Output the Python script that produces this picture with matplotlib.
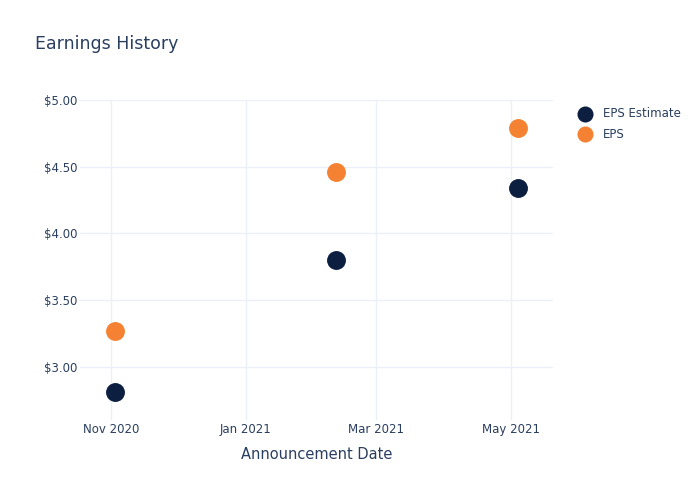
import matplotlib
matplotlib.use("Agg")
import matplotlib.pyplot as plt
from matplotlib.ticker import FuncFormatter
import numpy as np

dates = np.array(["2020-11-03", "2021-02-11", "2021-05-04"], dtype="datetime64[D]")
eps_estimate = [2.81, 3.80, 4.34]
eps_actual = [3.27, 4.46, 4.79]
tick_dates = np.array(["2020-11-01", "2021-01-01", "2021-03-01", "2021-05-01"], dtype="datetime64[D]")
tick_labels = ["Nov 2020", "Jan 2021", "Mar 2021", "May 2021"]
y_ticks = [3.0, 3.5, 4.0, 4.5, 5.0]

text_col = "#2a3f5f"
grid_col = "#ebf0f8"
navy = "#0c1f40"
orange = "#f58232"

fig = plt.figure(figsize=(7, 5), dpi=100)
ax = fig.add_axes([0.114, 0.16, 0.676, 0.64])

ax.scatter(dates, eps_estimate, s=185, color=navy, label="EPS Estimate", zorder=3, linewidths=0)
ax.scatter(dates, eps_actual, s=185, color=orange, label="EPS", zorder=3, linewidths=0)

ax.set_xlim(np.datetime64("2020-10-18"), np.datetime64("2021-05-20"))
ax.set_ylim(2.6, 5.0)
ax.set_xticks(tick_dates)
ax.set_xticklabels(tick_labels)
ax.set_yticks(y_ticks)
ax.yaxis.set_major_formatter(FuncFormatter(lambda v, p: f"${v:.2f}"))

ax.grid(True, color=grid_col, linewidth=1)
ax.set_axisbelow(True)
for s in ax.spines.values():
    s.set_visible(False)
ax.tick_params(length=0, labelsize=8.5, colors=text_col)
ax.tick_params(axis="x", pad=2)
ax.tick_params(axis="y", pad=2)

ax.set_xlabel("Announcement Date", fontsize=10.5, color=text_col, labelpad=8)
fig.text(0.05, 0.912, "Earnings History", fontsize=12.5, color=text_col, va="center")

leg = ax.legend(loc="upper left", bbox_to_anchor=(1.02, 1.01), frameon=False,
                fontsize=8.5, markerscale=0.85, handletextpad=0.5, labelspacing=0.6)
for t in leg.get_texts():
    t.set_color(text_col)

fig.savefig("out.png", dpi=100)
